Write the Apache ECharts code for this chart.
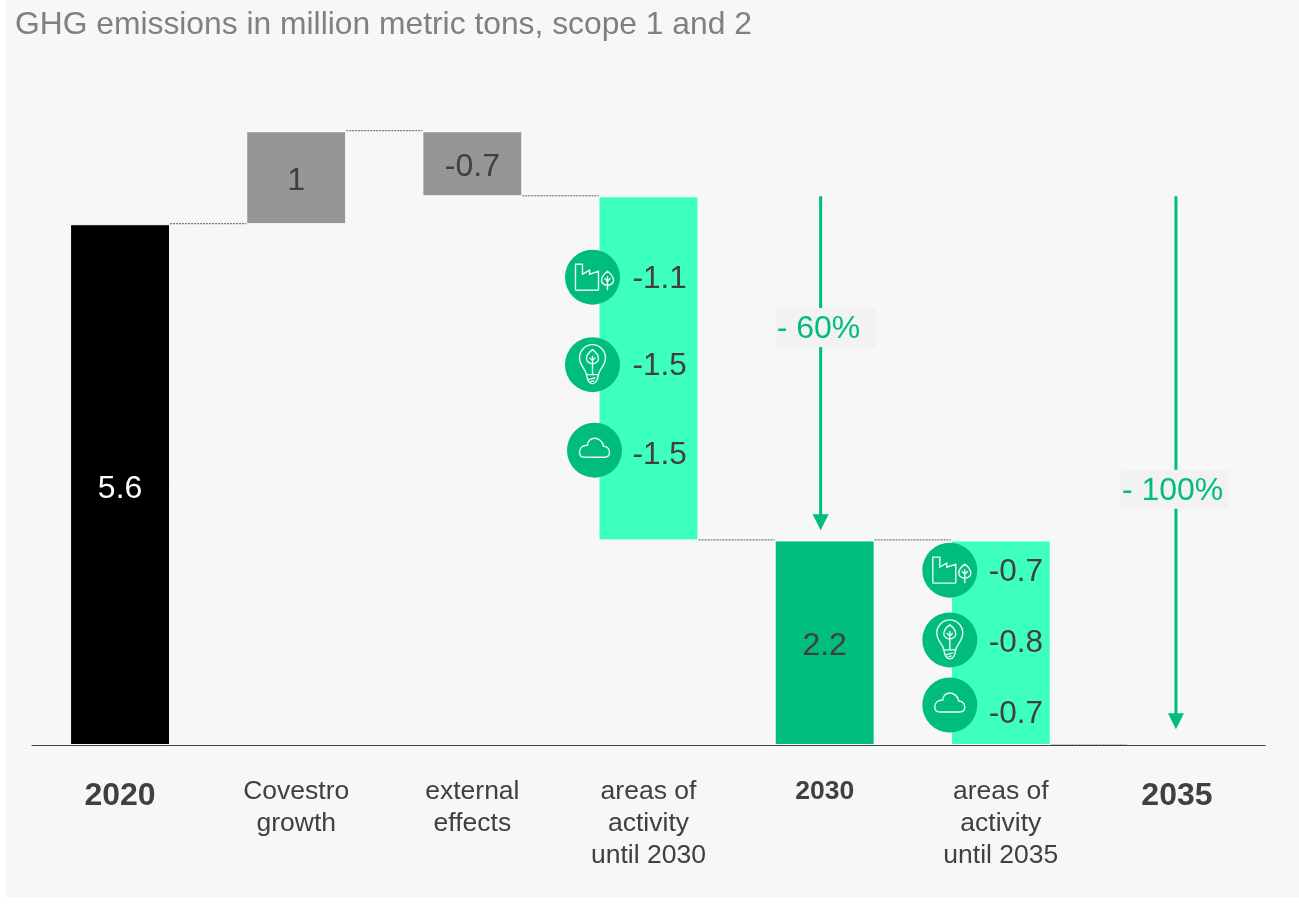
<!DOCTYPE html>
<html>
<head>
<meta charset="utf-8">
<title>GHG emissions</title>
<style>
  html, body { margin: 0; padding: 0; background: #ffffff; }
  #panel { position: absolute; left: 6px; top: 0; width: 1293px; height: 897px; background: #f7f7f7; }
  #chart { position: absolute; left: 0; top: 0; width: 1299px; height: 911px; }
</style>
<script src="https://cdn.jsdelivr.net/npm/echarts@6/dist/echarts.min.js"></script>
</head>
<body>
<div id="panel"></div>
<div id="chart"></div>
<script>
// Waterfall values, million metric tons
var categories = ['2020', 'Covestro\ngrowth', 'external\neffects', 'areas of\nactivity\nuntil 2030', '2030', 'areas of\nactivity\nuntil 2035', '2035'];
var barBases = [0, 5.6, 5.9, 2.2, 0, 0, 0];
var barHeights = [5.6, 1, 0.7, 3.7, 2.2, 2.2, 0];
var barLabels = ['5.6', '1', '-0.7', '', '2.2', '', ''];
var barKinds = ['total', 'change', 'change', 'measure', 'target', 'measure', 'none'];

// Dotted links between neighbouring bars: start category, level
var linkStarts = [0, 1, 2, 3, 4, 5];
var linkLevels = [5.6, 6.6, 5.9, 2.2, 2.2, 0];

// Reduction drivers listed beside the two "areas of activity" bars
var driverCategories = [3, 3, 3, 5, 5, 5];
var driverIcons = ['factory', 'bulb', 'cloud', 'factory', 'bulb', 'cloud'];
var driverValues = ['-1.1', '-1.5', '-1.5', '-0.7', '-0.8', '-0.7'];
var driverIconLevels = [5.03, 4.09, 3.17, 1.88, 1.13, 0.43];
var driverTextLevels = [5.03, 4.09, 3.14, 1.88, 1.12, 0.35];

// Reduction arrows
var arrowCategories = [4, 6];
var arrowStarts = [5.9, 5.9];
var arrowEnds = [2.31, 0.17];
var arrowLabels = ['- 60%', '- 100%'];
var arrowLabelLevels = [4.49, 2.75];

var palette = {
  total: '#000000', change: '#969696', measure: '#3dffbf', target: '#00bc7e', none: 'transparent',
  arrow: '#00bc7e', ink: '#404040', muted: '#808080'
};

var iconPaths = {
  factory: 'M-17,-13 L-10,-13 L-10,-3 L-3,-7 L-3,-3 L6,-6 L6,12 Q6,13 5,13 L-16,13 Q-17,13 -17,12 Z ' +
           'M15,-6 C19,-3 21,0 21,3 C21,6 18,8 15,8 C12,8 9,6 9,3 C9,0 11,-3 15,-6 Z ' +
           'M15,-1 L15,13 M15,4 L12,1 M15,4 L18,1',
  bulb: 'M-6,10 C-7,4 -13,1 -13,-7 C-13,-14 -7,-20 0,-20 C7,-20 13,-14 13,-7 C13,1 7,4 6,10 Z ' +
        'M-6,10 C-5,15 -4,19 0,19 C4,19 5,15 6,10 ' +
        'M-4,15 L3,13 M-2,17 L2,16 ' +
        'M0,-15 C4,-12 6,-9 6,-6 C6,-3 3,-1 0,-1 C-3,-1 -6,-3 -6,-6 C-6,-9 -4,-12 0,-15 Z ' +
        'M0,-9 L0,10 M0,-4 L-3,-7 M0,-4 L3,-7',
  cloud: 'M-10,7 L10,7 C13,7 15,5 15,2 C15,-2 12,-4 9,-4 C8,-9 4,-12 0,-12 C-4,-12 -7,-9 -7,-5 C-12,-5 -15,-2 -15,2 C-15,5 -13,7 -10,7 Z'
};

var fontFamily = '"Liberation Sans", Arial, sans-serif';
var halfBar = 50;

function axisLabelText(value) {
  var isYear = /^\d{4}$/.test(value);
  if (isYear) {
    return (value === '2030' ? '{yearSmall|' : '{year|') + value + '}';
  }
  return value.split('\n').map(function (line) { return '{plain|' + line + '}'; }).join('\n');
}

var chart = echarts.init(document.getElementById('chart'), null, { renderer: 'canvas' });

chart.setOption({
  backgroundColor: 'transparent',
  animation: false,
  title: {
    text: 'GHG emissions in million metric tons, scope 1 and 2',
    left: 10, top: 4,
    textStyle: { color: palette.muted, fontFamily: fontFamily, fontWeight: 'normal', fontSize: 31.8 }
  },
  grid: { left: 32, width: 1233, top: 94, height: 651 },
  xAxis: {
    type: 'category',
    data: categories,
    axisTick: { show: false },
    axisLine: { lineStyle: { color: palette.ink, width: 1.2 } },
    axisLabel: {
      interval: 0,
      margin: 31,
      verticalAlign: 'top',
      formatter: axisLabelText,
      rich: {
        year: { fontFamily: fontFamily, fontSize: 32, fontWeight: 'bold', color: palette.ink, lineHeight: 40 },
        yearSmall: { fontFamily: fontFamily, fontSize: 26.5, fontWeight: 'bold', color: palette.ink, lineHeight: 32 },
        plain: { fontFamily: fontFamily, fontSize: 26.5, color: palette.ink, lineHeight: 32 }
      }
    }
  },
  yAxis: { type: 'value', min: 0, max: 7, interval: 1, show: false, splitLine: { show: false } },
  series: [
    {
      type: 'bar', stack: 'waterfall', barWidth: 100, silent: true,
      itemStyle: { color: 'transparent' },
      data: barBases
    },
    {
      type: 'bar', stack: 'waterfall', barWidth: 100, silent: true,
      data: barHeights.map(function (h, i) {
        var isDark = barKinds[i] === 'total';
        return {
          value: h,
          itemStyle: {
            color: palette[barKinds[i]],
            borderColor: barKinds[i] === 'none' ? 'transparent' : '#ffffff',
            borderWidth: 1
          },
          label: {
            show: barLabels[i] !== '',
            position: 'inside',
            formatter: barLabels[i],
            offset: [0, isDark ? 5 : 3],
            color: isDark ? '#ffffff' : palette.ink,
            fontFamily: fontFamily,
            fontSize: 32
          }
        };
      })
    },
    {
      // Dotted links from one bar to the next
      type: 'custom', silent: true, z: 3,
      coordinateSystem: 'cartesian2d',
      data: linkStarts.map(function (c, i) { return [c, linkLevels[i]]; }),
      renderItem: function (params, api) {
        var a = api.coord([api.value(0), api.value(1)]);
        var b = api.coord([api.value(0) + 1, api.value(1)]);
        return {
          type: 'line',
          shape: { x1: a[0] + halfBar, y1: a[1] - 0.5, x2: b[0] - halfBar, y2: b[1] - 0.5 },
          style: { stroke: api.value(1) === 0 ? '#b5b5b5' : '#5f5f5f', lineWidth: 1, lineDash: [2, 1] }
        };
      }
    },
    {
      // Round driver badges with their line icons
      type: 'custom', silent: true, z: 4,
      coordinateSystem: 'cartesian2d',
      data: driverCategories.map(function (c, i) { return [c, driverIconLevels[i], i]; }),
      renderItem: function (params, api) {
        var i = api.value(2);
        var pos = api.coord([api.value(0), api.value(1)]);
        var shift = api.value(0) === 3 ? (driverIcons[i] === 'cloud' ? -54 : -56) : -51;
        return {
          type: 'group',
          x: pos[0] + shift,
          y: pos[1],
          children: [
            { type: 'circle', shape: { cx: 0, cy: 0, r: 27.5 }, style: { fill: palette.target } },
            {
              type: 'path',
              shape: { pathData: iconPaths[driverIcons[i]] },
              style: { fill: 'none', stroke: '#eafaf4', lineWidth: 1.4 }
            }
          ]
        };
      }
    },
    {
      // Driver values
      type: 'custom', silent: true, z: 5,
      coordinateSystem: 'cartesian2d',
      data: driverCategories.map(function (c, i) { return [c, driverTextLevels[i], i]; }),
      renderItem: function (params, api) {
        var pos = api.coord([api.value(0), api.value(1)]);
        return {
          type: 'text',
          x: pos[0] + (api.value(0) === 3 ? -16 : -12),
          y: pos[1] + 2,
          style: {
            text: driverValues[api.value(2)],
            fill: palette.ink,
            font: '31.5px ' + fontFamily,
            textAlign: 'left',
            textVerticalAlign: 'middle'
          }
        };
      }
    },
    {
      // Reduction arrows with their percentage tags
      type: 'custom', silent: true, z: 6,
      coordinateSystem: 'cartesian2d',
      data: arrowCategories.map(function (c, i) { return [c, arrowStarts[i], arrowEnds[i], arrowLabelLevels[i], i]; }),
      renderItem: function (params, api) {
        var i = api.value(4);
        var centre = api.coord([api.value(0), 0])[0];
        var x = centre + (i === 0 ? -4 : -1);
        var y0 = api.coord([api.value(0), api.value(1)])[1];
        var y1 = api.coord([api.value(0), api.value(2)])[1];
        var yTag = api.coord([api.value(0), api.value(3)])[1];
        var tagLeft = i === 0 ? x - 45 : x - 55;
        var tagWidth = i === 0 ? 100 : 108;
        return {
          type: 'group',
          children: [
            {
              type: 'line',
              shape: { x1: x, y1: y0, x2: x, y2: y1 - 15 },
              style: { stroke: palette.arrow, lineWidth: 3 }
            },
            {
              type: 'polygon',
              shape: { points: [[x - 8, y1 - 16], [x + 8, y1 - 16], [x, y1]] },
              style: { fill: palette.arrow }
            },
            {
              type: 'rect',
              shape: { x: tagLeft, y: yTag - 19.5, width: tagWidth, height: 39 },
              style: { fill: '#f2f2f2' }
            },
            {
              type: 'text',
              x: tagLeft + 1,
              y: yTag + 2,
              style: {
                text: arrowLabels[i],
                fill: palette.arrow,
                font: '32px ' + fontFamily,
                textAlign: 'left',
                textVerticalAlign: 'middle'
              }
            }
          ]
        };
      }
    }
  ]
});
</script>
</body>
</html>
